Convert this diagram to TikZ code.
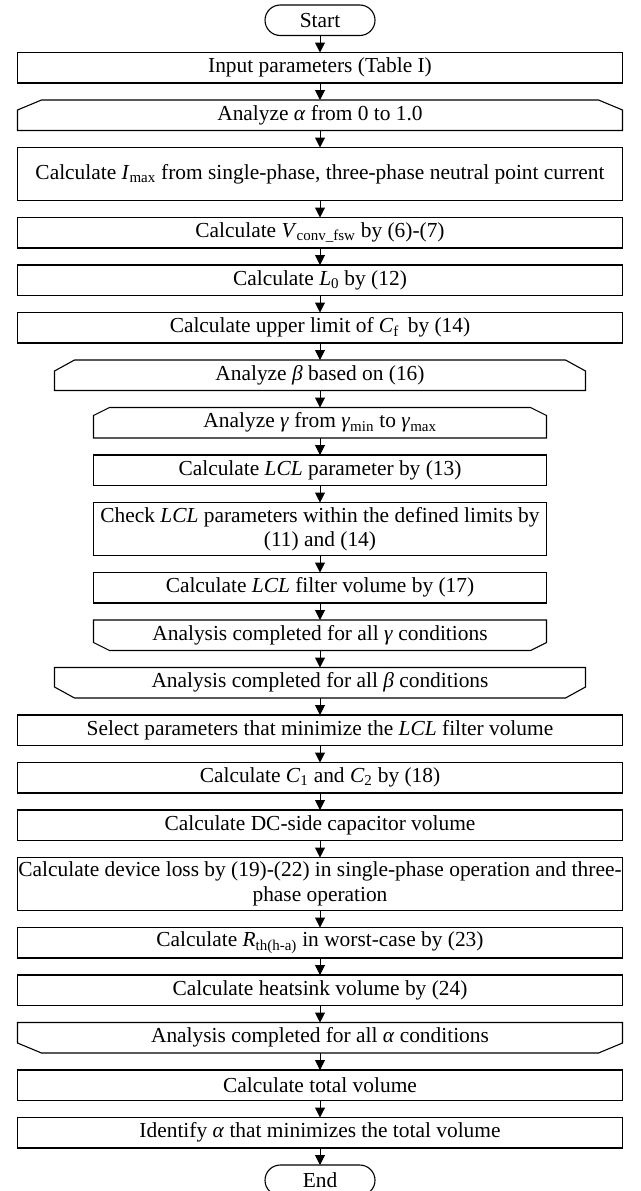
\documentclass[tikz,border=0pt]{standalone}
\usepackage{fontspec}
\setmainfont{Liberation Serif}
\usetikzlibrary{arrows.meta,positioning,shapes.misc}
\newcommand\gp{17pt}
\tikzset{
  base/.style={minimum height=30.5pt, inner sep=0pt, outer sep=0pt, font=\fontsize{21.4}{24.5}\selectfont, align=center},
  wide/.style={base, draw, minimum width=605pt},
  midw/.style={base, minimum width=531pt},
  narrow/.style={base, draw, minimum width=453pt},
  narrowloop/.style={base, minimum width=453pt},
  wideloop/.style={base, minimum width=605pt},
  tall/.style={minimum height=53pt},
  term/.style={base, draw, rounded rectangle, minimum width=110pt},
  arr/.style={-{Triangle[length=10pt,width=10pt]}, line width=1pt},
}
\newcommand\lpstart[3]{\draw (#1.south west) -- ([yshift=-#3]#1.north west) -- ([xshift=#2]#1.north west) -- ([xshift=-#2]#1.north east) -- ([yshift=-#3]#1.north east) -- (#1.south east) -- cycle;}
\newcommand\lpend[3]{\draw (#1.north west) -- ([yshift=#3]#1.south west) -- ([xshift=#2]#1.south west) -- ([xshift=-#2]#1.south east) -- ([yshift=#3]#1.south east) -- (#1.north east) -- cycle;}
\begin{document}
\begin{tikzpicture}[x=1pt,y=-1pt,line width=1.1pt]
\useasboundingbox (0,0) rectangle (640,1191);
\node[term] (n1) at (320,20.25) {Start};
\node[wide, below=\gp of n1] (n2) {Input parameters (Table I)};
\node[wideloop, below=\gp of n2] (n3) {Analyze \textit{α} from 0 to 1.0};
\node[wide, tall, below=\gp of n3] (n4) {Calculate \textit{I}\textsubscript{max} from single-phase, three-phase neutral point current};
\node[wide, below=\gp of n4] (n5) {Calculate \textit{V}\textsubscript{conv\_fsw} by (6)-(7)};
\node[wide, below=\gp of n5] (n6) {Calculate \textit{L}\textsubscript{0} by (12)};
\node[wide, below=\gp of n6] (n7) {Calculate upper limit of \textit{C}\textsubscript{f}\,\ by (14)};
\node[midw, below=\gp of n7] (n8) {Analyze \textit{β} based on (16)};
\node[narrowloop, below=\gp of n8] (n9) {Analyze \textit{γ} from \textit{γ}\textsubscript{min} to \textit{γ}\textsubscript{max}};
\node[narrow, below=\gp of n9] (n10) {Calculate \textit{LCL} parameter by (13)};
\node[narrow, tall, below=\gp of n10] (n11) {Check \textit{LCL} parameters within the defined limits by\\(11) and (14)};
\node[narrow, below=\gp of n11] (n12) {Calculate \textit{LCL} filter volume by (17)};
\node[narrowloop, below=\gp of n12] (n13) {Analysis completed for all \textit{γ} conditions};
\node[midw, below=\gp of n13] (n14) {Analysis completed for all \textit{β} conditions};
\node[wide, below=\gp of n14] (n15) {Select parameters that minimize the \textit{LCL} filter volume};
\node[wide, below=\gp of n15] (n16) {Calculate \textit{C}\textsubscript{1} and \textit{C}\textsubscript{2} by (18)};
\node[wide, below=\gp of n16] (n17) {Calculate DC-side capacitor volume};
\node[wide, tall, below=\gp of n17] (n18) {Calculate device loss by (19)-(22) in single-phase operation and three-\\phase operation};
\node[wide, below=\gp of n18] (n19) {Calculate \textit{R}\textsubscript{th(h-a)} in worst-case by (23)};
\node[wide, below=\gp of n19] (n20) {Calculate heatsink volume by (24)};
\node[wideloop, below=\gp of n20] (n21) {Analysis completed for all \textit{α} conditions};
\node[wide, below=\gp of n21] (n22) {Calculate total volume};
\node[wide, below=\gp of n22] (n23) {Identify \textit{α} that minimizes the total volume};
\node[term, below=\gp of n23] (n24) {End};
\lpstart{n3}{24pt}{10pt}
\lpstart{n8}{20pt}{11pt}
\lpstart{n9}{16pt}{8pt}
\lpend{n13}{16pt}{8pt}
\lpend{n14}{20pt}{11pt}
\lpend{n21}{24pt}{10pt}
\foreach \a/\b in {n1/n2,n2/n3,n3/n4,n4/n5,n5/n6,n6/n7,n7/n8,n8/n9,n9/n10,n10/n11,n11/n12,n12/n13,n13/n14,n14/n15,n15/n16,n16/n17,n17/n18,n18/n19,n19/n20,n20/n21,n21/n22,n22/n23,n23/n24}
  \draw[arr] (\a.south) -- (\b.north);
\end{tikzpicture}
\end{document}
